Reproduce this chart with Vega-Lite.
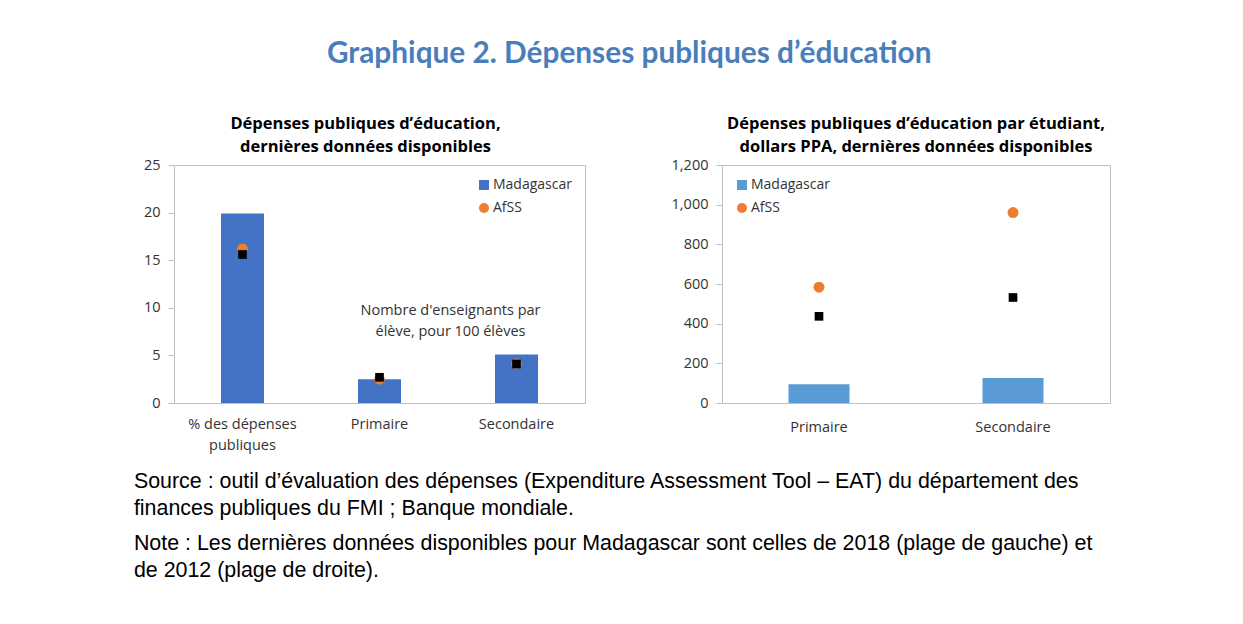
{
  "$schema": "https://vega.github.io/schema/vega-lite/v6.json",
  "background": "white",
  "padding": {"left": 133, "top": 39, "right": 5, "bottom": 5},
  "title": {
    "text": "Graphique 2. Dépenses publiques d’éducation",
    "font": "Lato",
    "fontSize": 29.8,
    "fontWeight": "bold",
    "color": "#4A7EBB",
    "anchor": "middle",
    "offset": 46,
    "dx": 7
  },
  "datasets": {
    "gauche": [
      {"categorie": "% des dépenses publiques", "serie": "Madagascar", "valeur": 19.9},
      {"categorie": "Primaire", "serie": "Madagascar", "valeur": 2.5},
      {"categorie": "Secondaire", "serie": "Madagascar", "valeur": 5.1},
      {"categorie": "% des dépenses publiques", "serie": "AfSS", "valeur": 16.2},
      {"categorie": "Primaire", "serie": "AfSS", "valeur": 2.5},
      {"categorie": "Secondaire", "serie": "AfSS", "valeur": 4.15},
      {"categorie": "% des dépenses publiques", "serie": "Carré noir", "valeur": 15.6},
      {"categorie": "Primaire", "serie": "Carré noir", "valeur": 2.7},
      {"categorie": "Secondaire", "serie": "Carré noir", "valeur": 4.1}
    ],
    "droite": [
      {"categorie": "Primaire", "serie": "Madagascar", "valeur": 94},
      {"categorie": "Secondaire", "serie": "Madagascar", "valeur": 126},
      {"categorie": "Primaire", "serie": "AfSS", "valeur": 584},
      {"categorie": "Secondaire", "serie": "AfSS", "valeur": 960},
      {"categorie": "Primaire", "serie": "Carré noir", "valeur": 437},
      {"categorie": "Secondaire", "serie": "Carré noir", "valeur": 532}
    ]
  },
  "vconcat": [
    {
      "title": {
        "text": [
          "Source : outil d’évaluation des dépenses (Expenditure Assessment Tool – EAT) du département des",
          "finances publiques du FMI ; Banque mondiale."
        ],
        "subtitle": [
          "Note : Les dernières données disponibles pour Madagascar sont celles de 2018 (plage de gauche) et",
          "de 2012 (plage de droite)."
        ],
        "orient": "bottom",
        "anchor": "start",
        "font": "Liberation Sans",
        "fontSize": 21.4,
        "fontWeight": "normal",
        "lineHeight": 27,
        "color": "#000000",
        "subtitleFont": "Liberation Sans",
        "subtitleFontSize": 21.4,
        "subtitleLineHeight": 27,
        "subtitleColor": "#000000",
        "subtitlePadding": 14,
        "offset": 19,
        "dx": -9
      },
      "spacing": 84,
      "hconcat": [
        {
          "width": 411,
          "height": 238,
          "title": {
            "text": ["Dépenses publiques d’éducation,", "dernières données disponibles"],
            "dx": -14
          },
          "data": {"name": "gauche"},
          "encoding": {
            "x": {
              "field": "categorie",
              "type": "nominal",
              "sort": null,
              "scale": {"paddingInner": 0, "paddingOuter": 0},
              "axis": {
                "title": null,
                "ticks": false,
                "labelAngle": 0,
                "labelPadding": 14,
                "labelLineHeight": 21,
                "labelExpr": "datum.value === '% des dépenses publiques' ? ['% des dépenses', 'publiques'] : datum.value"
              }
            },
            "y": {
              "field": "valeur",
              "type": "quantitative",
              "scale": {"domain": [0, 25], "nice": false},
              "axis": {"title": null, "values": [0, 5, 10, 15, 20, 25]}
            }
          },
          "layer": [
            {
              "transform": [{"filter": "datum.serie === 'Madagascar'"}],
              "mark": {"type": "bar", "width": 43},
              "encoding": {
                "color": {
                  "field": "serie",
                  "type": "nominal",
                  "scale": {"domain": ["Madagascar", "AfSS"], "range": ["#4472C4", "#ED7D31"]},
                  "legend": {"title": null, "orient": "top-right", "offset": 13}
                }
              }
            },
            {
              "transform": [{"filter": "datum.serie === 'AfSS'"}],
              "mark": {"type": "point", "filled": true, "opacity": 1, "size": 113},
              "encoding": {
                "color": {
                  "field": "serie",
                  "type": "nominal",
                  "scale": {"domain": ["Madagascar", "AfSS"], "range": ["#4472C4", "#ED7D31"]},
                  "legend": {"title": null, "orient": "top-right", "offset": 13}
                },
                "shape": {
                  "field": "serie",
                  "type": "nominal",
                  "scale": {"domain": ["Madagascar", "AfSS"], "range": ["square", "circle"]},
                  "legend": {"title": null, "orient": "top-right", "offset": 13}
                }
              }
            },
            {
              "transform": [{"filter": "datum.serie === 'Carré noir'"}],
              "mark": {"type": "square", "color": "#000000", "opacity": 1, "size": 75}
            },
            {
              "transform": [{"filter": "datum.serie === 'Madagascar' && datum.categorie === 'Secondaire'"}],
              "mark": {"type": "text", "font": "Open Sans", "fontSize": 14.5, "lineHeight": 21, "color": "#333333", "baseline": "middle", "align": "center", "xOffset": -66},
              "encoding": {
                "y": {"datum": 9.7},
                "text": {"value": ["Nombre d'enseignants par", "élève, pour 100 élèves"]}
              }
            }
          ]
        },
        {
          "width": 388,
          "height": 238,
          "title": {
            "text": ["Dépenses publiques d’éducation par étudiant,", "dollars PPA, dernières données disponibles"]
          },
          "data": {"name": "droite"},
          "encoding": {
            "x": {
              "field": "categorie",
              "type": "nominal",
              "sort": null,
              "scale": {"paddingInner": 0, "paddingOuter": 0},
              "axis": {"title": null, "ticks": false, "labelAngle": 0, "labelPadding": 17}
            },
            "y": {
              "field": "valeur",
              "type": "quantitative",
              "scale": {"domain": [0, 1200], "nice": false},
              "axis": {"title": null, "values": [0, 200, 400, 600, 800, 1000, 1200], "format": ",.0f"}
            }
          },
          "layer": [
            {
              "transform": [{"filter": "datum.serie === 'Madagascar'"}],
              "mark": {"type": "bar", "width": 61},
              "encoding": {
                "color": {
                  "field": "serie",
                  "type": "nominal",
                  "scale": {"domain": ["Madagascar", "AfSS"], "range": ["#5B9BD5", "#ED7D31"]},
                  "legend": {"title": null, "orient": "top-left", "offset": 13}
                }
              }
            },
            {
              "transform": [{"filter": "datum.serie === 'AfSS'"}],
              "mark": {"type": "point", "filled": true, "opacity": 1, "size": 120},
              "encoding": {
                "color": {
                  "field": "serie",
                  "type": "nominal",
                  "scale": {"domain": ["Madagascar", "AfSS"], "range": ["#5B9BD5", "#ED7D31"]},
                  "legend": {"title": null, "orient": "top-left", "offset": 13}
                },
                "shape": {
                  "field": "serie",
                  "type": "nominal",
                  "scale": {"domain": ["Madagascar", "AfSS"], "range": ["square", "circle"]},
                  "legend": {"title": null, "orient": "top-left", "offset": 13}
                }
              }
            },
            {
              "transform": [{"filter": "datum.serie === 'Carré noir'"}],
              "mark": {"type": "square", "color": "#000000", "opacity": 1, "size": 75}
            }
          ]
        }
      ],
      "resolve": {"scale": {"color": "independent", "shape": "independent"}, "legend": {"color": "independent", "shape": "independent"}}
    }
  ],
  "config": {
    "font": "Open Sans",
    "view": {"stroke": "#bfbfbf", "strokeWidth": 1},
    "axis": {
      "labelFont": "Open Sans",
      "labelFontSize": 14.5,
      "labelColor": "#333333",
      "grid": false,
      "domain": false,
      "tickColor": "#bfbfbf",
      "tickSize": 6,
      "labelPadding": 8
    },
    "legend": {
      "labelFont": "Open Sans",
      "labelFontSize": 14,
      "labelColor": "#333333",
      "symbolSize": 100,
      "symbolStrokeWidth": 0,
      "rowPadding": 9,
      "labelOffset": 2,
      "padding": 0
    },
    "title": {
      "font": "Open Sans",
      "fontSize": 16.5,
      "fontWeight": "bold",
      "lineHeight": 23,
      "color": "#000000",
      "anchor": "middle",
      "offset": 2
    }
  }
}
